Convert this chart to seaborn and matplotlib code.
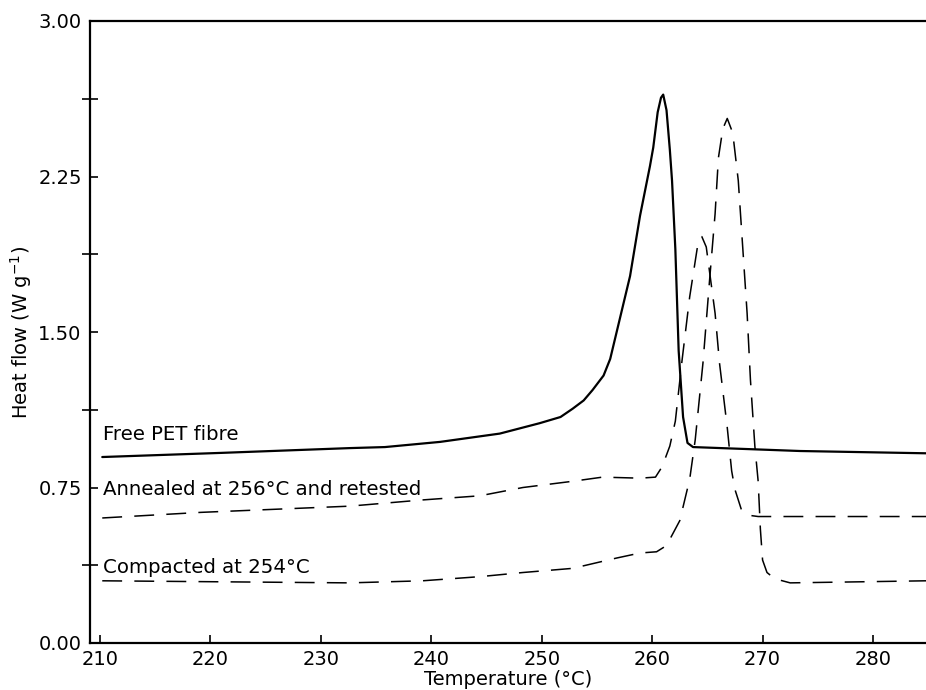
import numpy as np
import pandas as pd
import seaborn as sns
import matplotlib
matplotlib.use("Agg")
import matplotlib.pyplot as plt
from matplotlib.ticker import MultipleLocator, FormatStrFormatter

# Free PET fibre (solid)
temp_free = [210.2, 221.0, 232.6, 235.8, 240.8, 246.2, 249.8, 251.7, 252.8, 253.8,
             254.6, 255.6, 256.2, 257.1, 258.0, 258.9, 259.8, 260.1, 260.5, 260.8,
             261.0, 261.3, 261.6, 261.8, 262.1, 262.4, 262.8, 263.2, 263.7, 273.4,
             284.8]
flow_free = [0.897, 0.917, 0.94, 0.945, 0.97, 1.01, 1.06, 1.09, 1.13, 1.17,
             1.22, 1.29, 1.37, 1.57, 1.77, 2.06, 2.30, 2.39, 2.56, 2.63,
             2.645, 2.57, 2.38, 2.23, 1.90, 1.41, 1.09, 0.965, 0.945, 0.926,
             0.915]

# Annealed at 256 C and retested (dashed)
temp_ann = [210.2, 219.1, 232.6, 239.2, 244.4, 248.3, 252.8, 255.5, 258.9, 260.3,
            260.9, 261.6, 262.1, 262.7, 263.4, 264.1, 264.5, 264.9, 265.2, 265.7,
            266.1, 266.8, 267.2, 267.5, 268.1, 268.9, 269.6, 284.8]
flow_ann = [0.603, 0.63, 0.66, 0.69, 0.71, 0.75, 0.78, 0.80, 0.795, 0.80,
            0.85, 0.95, 1.07, 1.36, 1.67, 1.91, 1.96, 1.91, 1.79, 1.59,
            1.35, 1.04, 0.83, 0.74, 0.64, 0.615, 0.61, 0.61]

# Compacted at 254 C (dashed)
temp_comp = [210.2, 232.6, 239.2, 244.4, 248.3, 252.8, 256.8, 258.9, 260.4, 261.3,
             262.5, 263.4, 263.9, 264.6, 265.2, 265.7, 266.0, 266.4, 266.8, 267.3,
             267.8, 268.2, 268.6, 268.9, 269.3, 269.6, 269.8, 270.0, 270.4, 271.1,
             272.5, 284.8]
flow_comp = [0.30, 0.29, 0.30, 0.32, 0.34, 0.36, 0.41, 0.434, 0.44, 0.47,
             0.59, 0.79, 0.98, 1.35, 1.75, 2.07, 2.34, 2.48, 2.53, 2.46,
             2.23, 1.91, 1.59, 1.27, 0.95, 0.78, 0.55, 0.40, 0.34, 0.31,
             0.29, 0.30]

curve_labels = ["Free PET fibre", "Annealed at 256\u00b0C and retested", "Compacted at 254\u00b0C"]
label_y = [1.008, 0.738, 0.366]

sns.set_style("ticks")
plt.rcParams['font.family'] = ['DejaVu Sans']
plt.rcParams.update({"text.color": "black", "axes.labelcolor": "black",
                     "xtick.color": "black", "ytick.color": "black"})

fig = plt.figure(figsize=(9.26, 6.9), dpi=100)
ax = fig.add_axes([90 / 926, 1 - 643 / 690, 836 / 926, 622 / 690])

dash = (0, (13, 8))
sns.lineplot(x=temp_free, y=flow_free, ax=ax, color="black", lw=1.6, sort=True)
sns.lineplot(x=temp_ann, y=flow_ann, ax=ax, color="black", lw=1.1, linestyle=dash)
sns.lineplot(x=temp_comp, y=flow_comp, ax=ax, color="black", lw=1.1, linestyle=dash)

for txt, yv in zip(curve_labels, label_y):
    ax.text(210.3, yv, txt, ha="left", va="center", fontsize=14.2, color="black")

ax.set_xlim(209.09, 284.8)
ax.set_ylim(0, 3.0)
ax.set_xticks(np.arange(210, 281, 10))
ax.yaxis.set_major_locator(MultipleLocator(0.75))
ax.yaxis.set_minor_locator(MultipleLocator(0.375))
ax.yaxis.set_major_formatter(FormatStrFormatter("%.2f"))

ax.tick_params(axis="x", direction="in", length=6, width=1.2, labelsize=14, pad=5)
ax.tick_params(axis="y", which="major", direction="in", length=6, width=1.2, labelsize=14, pad=6)
ax.tick_params(axis="y", which="minor", direction="inout", length=12, width=1.2)

for side in ["left", "bottom", "top"]:
    ax.spines[side].set_linewidth(1.6)
    ax.spines[side].set_color("black")
ax.spines["right"].set_visible(False)

ax.set_xlabel("Temperature (\u00b0C)", fontsize=14, labelpad=0.5)
ax.set_ylabel("Heat flow (W g$^{\\mathregular{-1}}$)", fontsize=14, labelpad=3)

fig.savefig("out.png", dpi=100)
